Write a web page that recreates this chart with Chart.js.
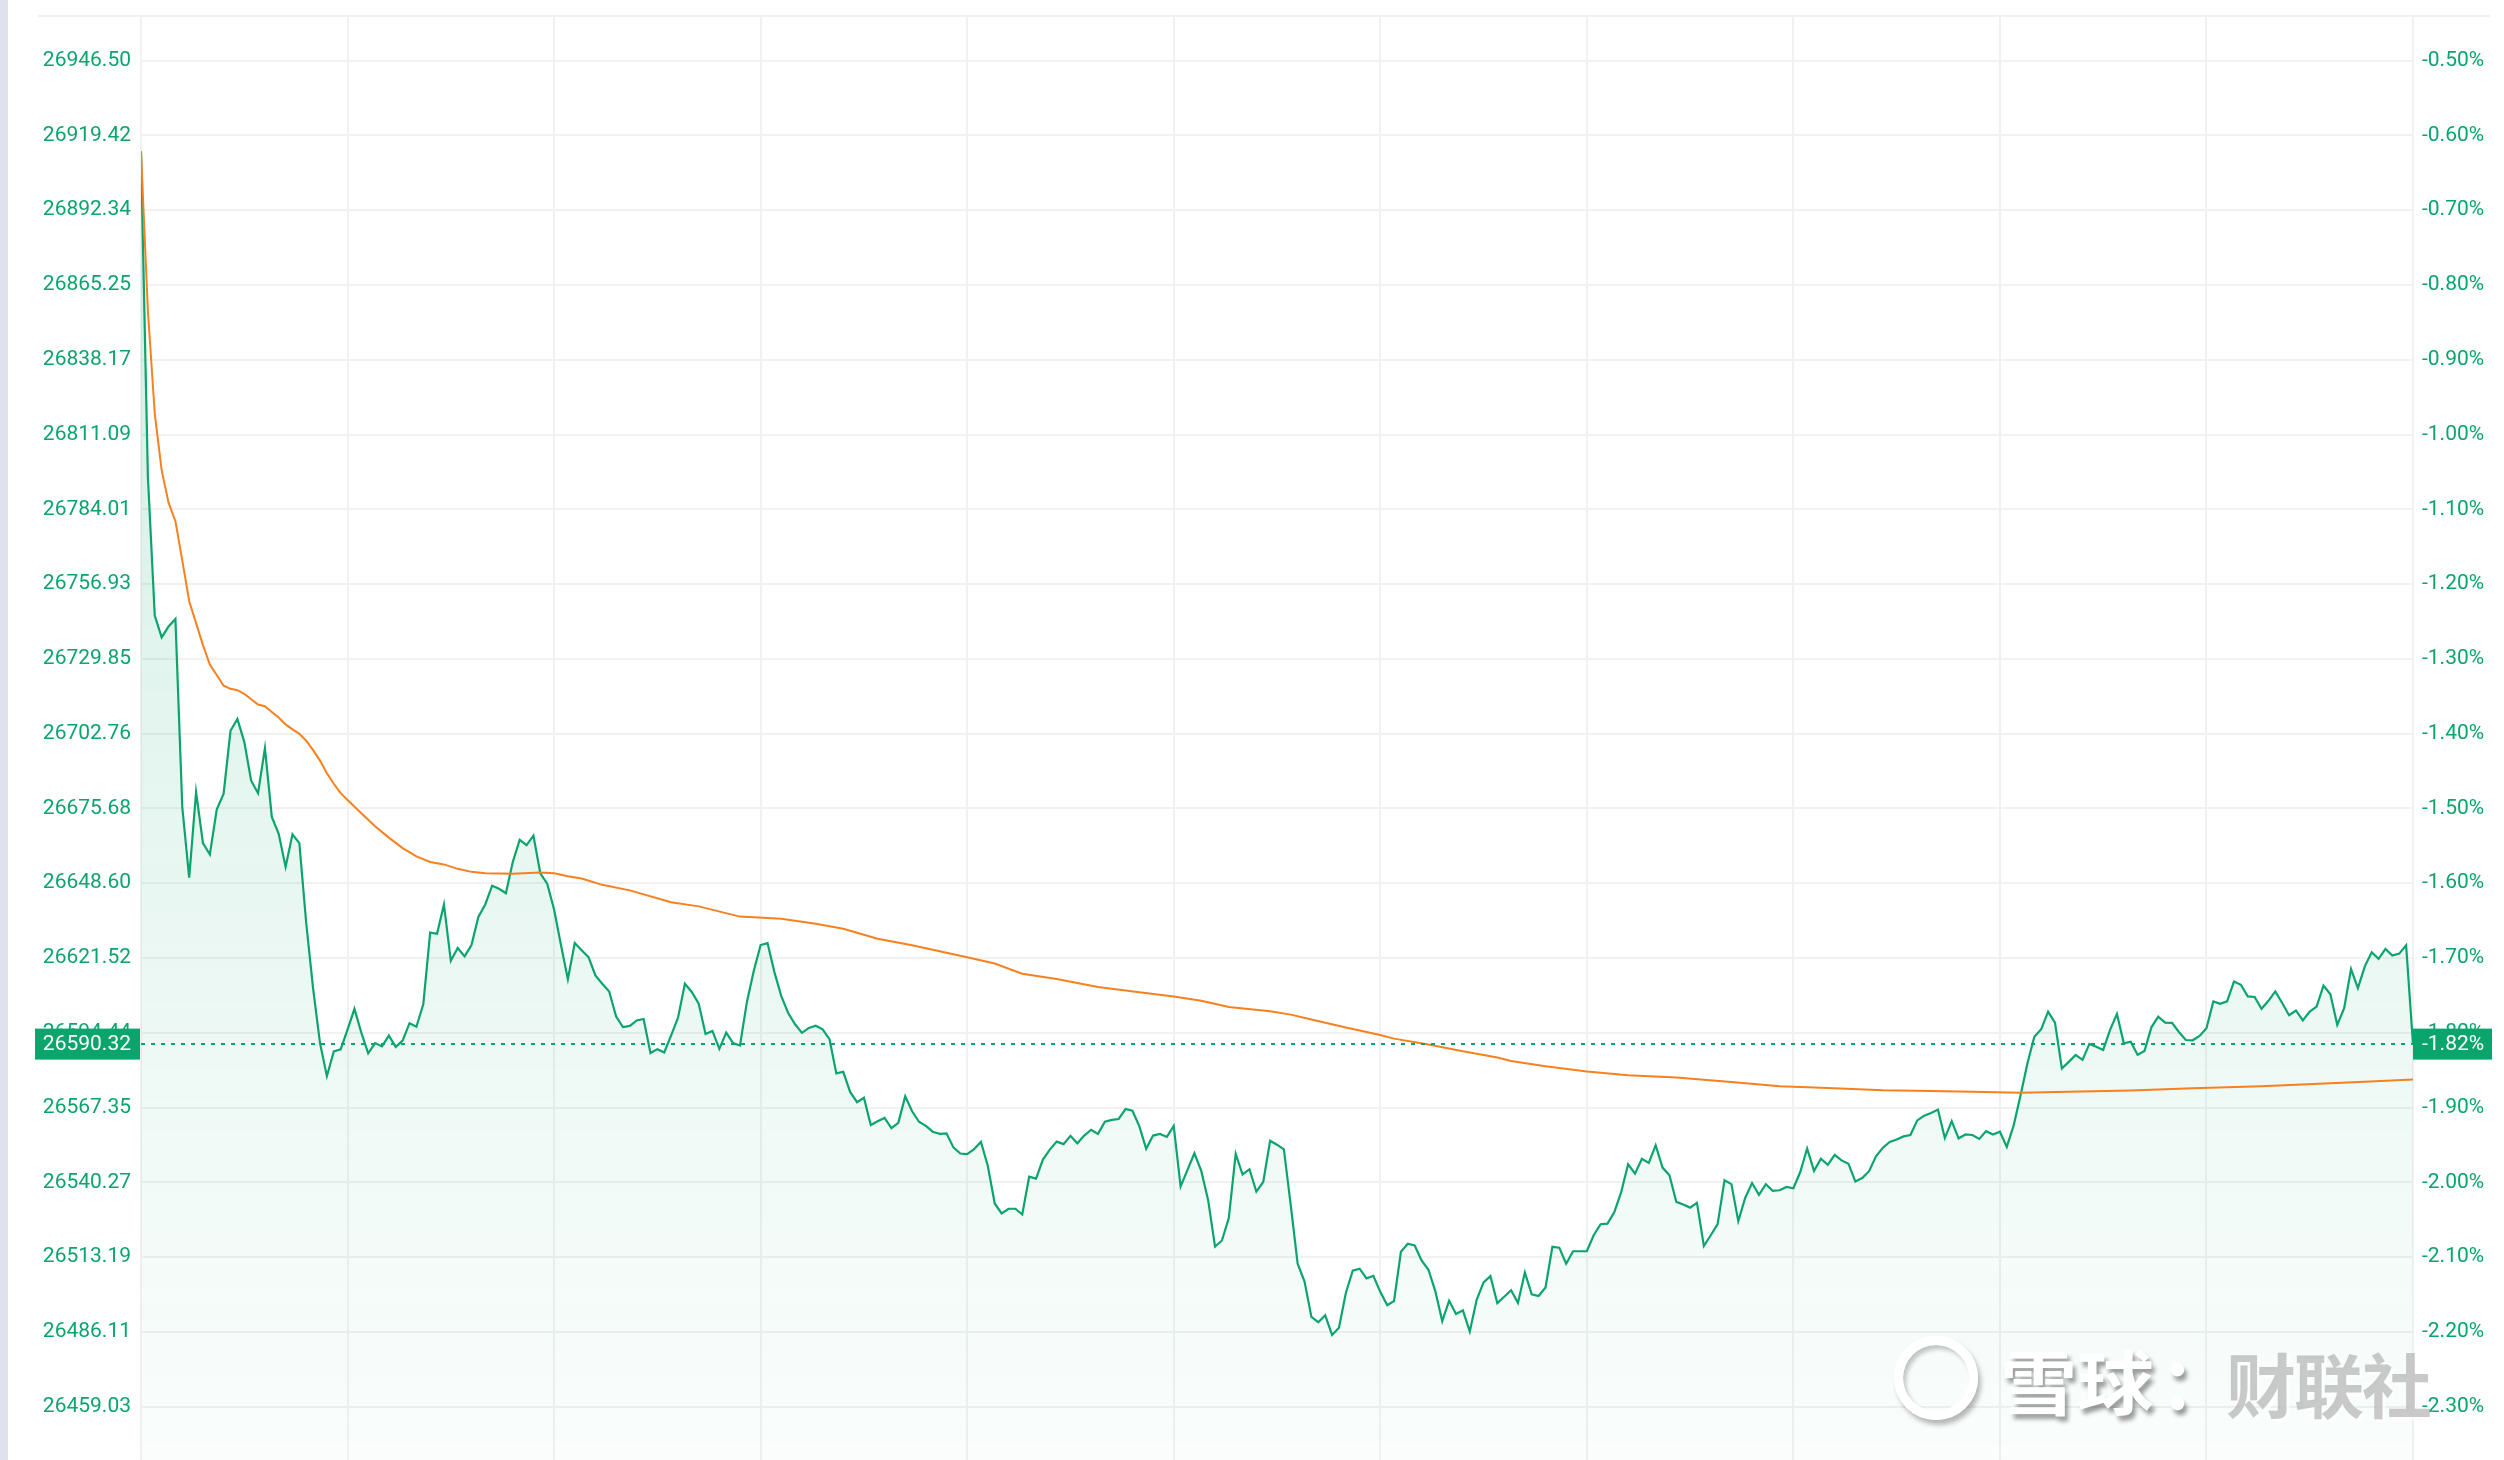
<!DOCTYPE html>
<html lang="zh-CN">

<head>
    <meta charset="UTF-8">
    <title>恒生指数 分时</title>
    <script src="https://cdn.jsdelivr.net/npm/chart.js@4.4.0/dist/chart.umd.min.js"></script>
    <style>
        html, body {
            margin: 0;
            padding: 0;
            background: #fff;
        }

        #wrap {
            position: relative;
            width: 2504px;
            height: 1460px;
            overflow: hidden;
        }

        #side {
            position: absolute;
            left: 0;
            top: 0;
            width: 8px;
            height: 1460px;
            background: #dfe2ee;
        }

        #topline {
            position: absolute;
            left: 38px;
            top: 15px;
            width: 2452px;
            height: 2px;
            background: #f1f1f1;
        }

        .wm {
            position: absolute;
            font-family: "Noto Sans CJK SC", sans-serif;
            font-weight: bold;
            font-size: 70px;
            line-height: 70px;
            white-space: nowrap;
        }

        .logo {
            position: absolute;
            left: 1894px;
            top: 1336px;
            width: 66px;
            height: 66px;
            border: 9px solid #fff;
            border-radius: 50%;
            box-shadow: 3px 5px 5px rgba(0, 0, 0, 0.28), inset 3px 4px 4px rgba(0, 0, 0, 0.22);
        }

        .xq {
            left: 2000px;
            top: 1345px;
            color: #fff;
            transform: scaleX(1.1);
            transform-origin: left center;
            text-shadow: 3px 5px 4px rgba(0, 0, 0, 0.38);
        }

        .colon {
            left: 2160px;
            top: 1345px;
            color: #fff;
            text-shadow: 3px 5px 4px rgba(0, 0, 0, 0.38);
        }

        .cls {
            left: 2226px;
            top: 1348px;
            letter-spacing: -2px;
            color: rgba(165, 165, 165, 0.6);
            text-shadow: 3px 3px 0 rgba(255, 255, 255, 0.7);
        }
    </style>
</head>

<body>
    <div id="wrap">
        <canvas id="chart" width="2504" height="1460"></canvas>
        <div id="side"></div>
        <div id="topline"></div>
        <div class="logo"></div>
        <div class="wm xq">雪球</div>
        <div class="wm colon">：</div>
        <div class="wm cls">财联社</div>
    </div>
    <script>
        // minute-by-minute price (09:30-12:00, 13:00-16:00), one value per minute
        const priceData = [
            26913.6, 26795.9, 26745.5, 26737.6, 26741.6, 26744.3, 26676.0, 26650.6, 26681.6, 26663.1,
            26659.0, 26675.3, 26681.0, 26703.8, 26708.1, 26699.8, 26685.7, 26681.2, 26697.5, 26672.6,
            26666.5, 26654.5, 26666.3, 26663.1, 26634.1, 26610.4, 26590.7, 26578.7, 26587.7, 26588.4,
            26595.6, 26603.1, 26594.5, 26587.0, 26590.7, 26589.5, 26593.4, 26589.3, 26591.6, 26597.9,
            26596.6, 26604.7, 26630.7, 26630.3, 26640.9, 26620.5, 26625.1, 26622.1, 26626.2, 26636.4,
            26640.9, 26647.7, 26646.6, 26645.0, 26656.3, 26664.3, 26662.4, 26665.8, 26652.2, 26648.4,
            26639.1, 26626.2, 26613.8, 26626.9, 26624.3, 26621.8, 26615.2, 26612.2, 26609.4, 26600.4,
            26596.5, 26596.9, 26598.9, 26599.4, 26587.1, 26588.5, 26587.3, 26593.5, 26599.9, 26612.2,
            26609.2, 26605.0, 26594.0, 26595.1, 26588.6, 26594.5, 26590.7, 26589.8, 26605.5, 26616.8,
            26626.2, 26626.9, 26616.4, 26607.7, 26601.6, 26597.5, 26594.4, 26596.2, 26597.0, 26595.7,
            26592.1, 26579.7, 26580.3, 26573.0, 26569.3, 26570.9, 26561.0, 26562.4, 26563.6, 26559.9,
            26561.8, 26571.4, 26566.0, 26562.2, 26560.7, 26558.6, 26557.8, 26558.0, 26552.9, 26550.7,
            26550.5, 26552.3, 26554.9, 26546.2, 26532.6, 26529.0, 26530.7, 26530.7, 26528.6, 26542.3,
            26541.6, 26548.5, 26552.1, 26555.0, 26554.1, 26557.1, 26554.4, 26557.2, 26559.3, 26557.8,
            26562.2, 26562.9, 26563.2, 26566.8, 26566.2, 26560.6, 26552.4, 26557.2, 26557.8, 26556.7,
            26560.7, 26538.8, 26544.8, 26550.8, 26544.4, 26533.8, 26517.0, 26519.2, 26527.3, 26550.6,
            26543.1, 26545.0, 26536.9, 26540.4, 26555.3, 26553.9, 26552.2, 26531.9, 26510.8, 26504.3,
            26491.5, 26489.6, 26492.1, 26485.0, 26487.6, 26500.2, 26508.3, 26509.0, 26505.5, 26506.4,
            26500.6, 26495.8, 26497.3, 26515.1, 26518.0, 26517.4, 26512.0, 26508.6, 26500.8, 26490.0,
            26497.4, 26492.6, 26493.9, 26486.2, 26497.7, 26504.0, 26506.3, 26496.5, 26498.8, 26501.2,
            26496.6, 26507.6, 26499.7, 26499.1, 26502.2, 26516.9, 26516.6, 26510.8, 26515.3, 26515.3,
            26515.3, 26521.1, 26525.1, 26525.3, 26529.5, 26536.8, 26546.8, 26543.4, 26548.8, 26547.3,
            26553.7, 26545.6, 26542.8, 26533.2, 26532.2, 26531.1, 26532.8, 26517.2, 26521.1, 26525.1,
            26541.0, 26539.6, 26526.2, 26534.6, 26540.0, 26535.7, 26539.6, 26537.2, 26537.4, 26538.6,
            26538.1, 26544.0, 26552.5, 26544.4, 26548.8, 26546.6, 26550.2, 26548.2, 26547.0, 26540.6,
            26541.8, 26544.3, 26549.7, 26552.8, 26554.9, 26555.8, 26556.9, 26557.4, 26562.7, 26564.4,
            26565.4, 26566.6, 26556.3, 26562.4, 26556.2, 26557.6, 26557.4, 26556.0, 26558.8, 26557.6,
            26558.6, 26553.1, 26560.9, 26571.8, 26583.4, 26593.0, 26595.7, 26602.1, 26598.1, 26581.5,
            26583.9, 26586.4, 26584.6, 26590.4, 26589.4, 26588.2, 26595.5, 26601.2, 26590.6, 26591.2,
            26586.5, 26587.8, 26596.4, 26600.3, 26598.1, 26598.0, 26594.7, 26591.8, 26591.7, 26593.3,
            26596.1, 26605.8, 26604.9, 26605.8, 26613.0, 26611.8, 26607.6, 26607.4, 26603.1, 26606.0,
            26609.4, 26605.2, 26600.8, 26602.5, 26598.9, 26602.1, 26603.9, 26611.5, 26608.4, 26597.3,
            26603.3, 26617.5, 26610.6, 26618.5, 26623.6, 26621.2, 26624.8, 26622.4, 26623.1, 26626.1,
            26590.32
        ];

        // average price line, sampled at these minutes
        const avgMinutes = [
            0, 1, 2, 3, 4, 5, 6, 7, 8, 9, 10, 11, 12, 13, 14, 15, 16, 17, 18, 19, 20, 21, 22, 23, 24, 25, 26, 27, 28, 29,
            30, 32, 34, 36, 38, 40, 42, 44, 46, 48, 50, 54, 58, 60, 62, 64, 67, 71, 77, 81, 87, 93, 98, 102, 107, 112,
            120, 124, 128, 133, 139, 145, 150, 154, 158, 164, 167, 170, 175, 180, 182, 187, 192, 197, 199, 204, 210,
            216, 223, 231, 238, 245, 253, 260, 266, 273, 280, 289, 298, 308, 318, 323, 330
        ];
        const avgValues = [
            26913.6, 26855.9, 26818.6, 26798.2, 26786.4, 26779.7, 26765.4, 26750.7, 26742.8, 26734.8, 26727.8,
            26724.0, 26720.1, 26719.0, 26718.5, 26717.2, 26715.2, 26713.3, 26712.7, 26710.6, 26708.6, 26706.1,
            26704.3, 26702.7, 26700.2, 26696.8, 26693.0, 26688.4, 26684.6, 26681.2,
            26678.7, 26673.9, 26669.2, 26665.1, 26661.3, 26658.3, 26656.3, 26655.4, 26653.8, 26652.7, 26652.2,
            26652.0, 26652.5, 26652.2, 26651.1, 26650.3, 26648.0, 26646.0, 26641.7, 26640.2, 26636.5, 26635.7,
            26633.9, 26632.1, 26628.5, 26626.1,
            26621.8, 26619.5, 26615.8, 26613.9, 26611.0, 26609.1, 26607.6, 26606.0, 26603.8, 26602.2, 26601.0,
            26599.2, 26596.3, 26593.6, 26592.3, 26590.2, 26587.7, 26585.5, 26584.2, 26582.3, 26580.4,
            26579.0, 26578.2, 26576.6, 26575.1, 26574.4, 26573.6, 26573.3, 26573.1, 26572.7, 26573.1, 26573.5,
            26574.3, 26575.1, 26576.1, 26576.7, 26577.5
        ];

        // axis labels
        const priceTicks = [
            26946.50, 26919.42, 26892.34, 26865.25, 26838.17, 26811.09, 26784.01, 26756.93, 26729.85, 26702.76,
            26675.68, 26648.60, 26621.52, 26594.44, 26567.35, 26540.27, 26513.19, 26486.11, 26459.03
        ];
        const pctTicks = [
            '-0.50%', '-0.60%', '-0.70%', '-0.80%', '-0.90%', '-1.00%', '-1.10%', '-1.20%', '-1.30%', '-1.40%',
            '-1.50%', '-1.60%', '-1.70%', '-1.80%', '-1.90%', '-2.00%', '-2.10%', '-2.20%', '-2.30%'
        ];
        const lastPrice = 26590.32;
        const lastPct = '-1.82%';

        const GREEN = '#0aa56c';
        const ORANGE = '#f7801f';
        const GRID = '#f1f1f1';

        Chart.defaults.font.family = 'Roboto';

        const lastPricePlugin = {
            id: 'lastPrice',
            afterDatasetsDraw(chart) {
                const ctx = chart.ctx;
                const area = chart.chartArea;
                const y = chart.scales.y.getPixelForValue(lastPrice);
                ctx.save();
                ctx.strokeStyle = GREEN;
                ctx.lineWidth = 2;
                ctx.setLineDash([4, 6]);
                ctx.beginPath();
                ctx.moveTo(area.left, y);
                ctx.lineTo(area.right, y);
                ctx.stroke();
                ctx.setLineDash([]);

                ctx.fillStyle = GREEN;
                ctx.fillRect(35, y - 15.5, area.left - 36, 31);
                ctx.fillRect(area.right, y - 15.5, 79, 31);

                ctx.fillStyle = '#fff';
                ctx.font = '21px Roboto';
                ctx.textBaseline = 'middle';
                ctx.textAlign = 'right';
                ctx.fillText(lastPrice.toFixed(2), area.left - 10, y + 1);
                ctx.textAlign = 'left';
                ctx.fillText(lastPct, area.right + 9, y + 1);
                ctx.restore();
            }
        };

        // keep the plot area at a fixed box: no extra room for the end labels
        function fitY(width) {
            return scale => {
                scale.width = width;
                scale.paddingTop = 0;
                scale.paddingBottom = 0;
            };
        }

        const ctx = document.getElementById('chart').getContext('2d');
        const fillGrad = ctx.createLinearGradient(0, 17, 0, 1460);
        fillGrad.addColorStop(0, 'rgba(10, 165, 108, 0.20)');
        fillGrad.addColorStop(1, 'rgba(10, 165, 108, 0.02)');

        new Chart(ctx, {
            type: 'line',
            data: {
                datasets: [
                    {
                        label: '均价',
                        data: avgMinutes.map((m, i) => ({ x: m, y: avgValues[i] })),
                        borderColor: ORANGE,
                        borderWidth: 2,
                        pointRadius: 0,
                        fill: false,
                        order: 1
                    },
                    {
                        label: '价格',
                        data: priceData.map((v, i) => ({ x: i, y: v })),
                        borderColor: GREEN,
                        borderWidth: 2.2,
                        pointRadius: 0,
                        fill: 'start',
                        backgroundColor: fillGrad,
                        order: 2
                    }
                ]
            },
            options: {
                responsive: false,
                animation: false,
                layout: { padding: { top: 17, left: 0, right: 0, bottom: 0 } },
                plugins: {
                    legend: { display: false },
                    tooltip: { enabled: false }
                },
                scales: {
                    x: {
                        type: 'linear',
                        min: 0,
                        max: 330,
                        ticks: { display: false, stepSize: 30 },
                        grid: { color: GRID, lineWidth: 2, drawTicks: false },
                        border: { display: false },
                        afterFit(scale) {
                            scale.height = 0;
                            scale.paddingLeft = 0;
                            scale.paddingRight = 0;
                        }
                    },
                    y: {
                        position: 'left',
                        min: 26439.7,
                        max: 26962.3,
                        afterBuildTicks(scale) { scale.ticks = priceTicks.map(v => ({ value: v })); },
                        afterFit: fitY(141),
                        ticks: {
                            color: GREEN,
                            padding: 10,
                            font: { size: 21 },
                            callback: v => v.toFixed(2)
                        },
                        grid: { color: GRID, lineWidth: 2, drawTicks: false },
                        border: { display: false }
                    },
                    y1: {
                        position: 'right',
                        min: 26439.7,
                        max: 26962.3,
                        afterBuildTicks(scale) { scale.ticks = priceTicks.map(v => ({ value: v })); },
                        afterFit: fitY(91),
                        ticks: {
                            color: GREEN,
                            padding: 9,
                            font: { size: 21 },
                            callback: (v, i) => pctTicks[i]
                        },
                        grid: { display: false, drawTicks: false },
                        border: { display: false }
                    }
                }
            },
            plugins: [lastPricePlugin]
        });
    </script>
</body>

</html>
